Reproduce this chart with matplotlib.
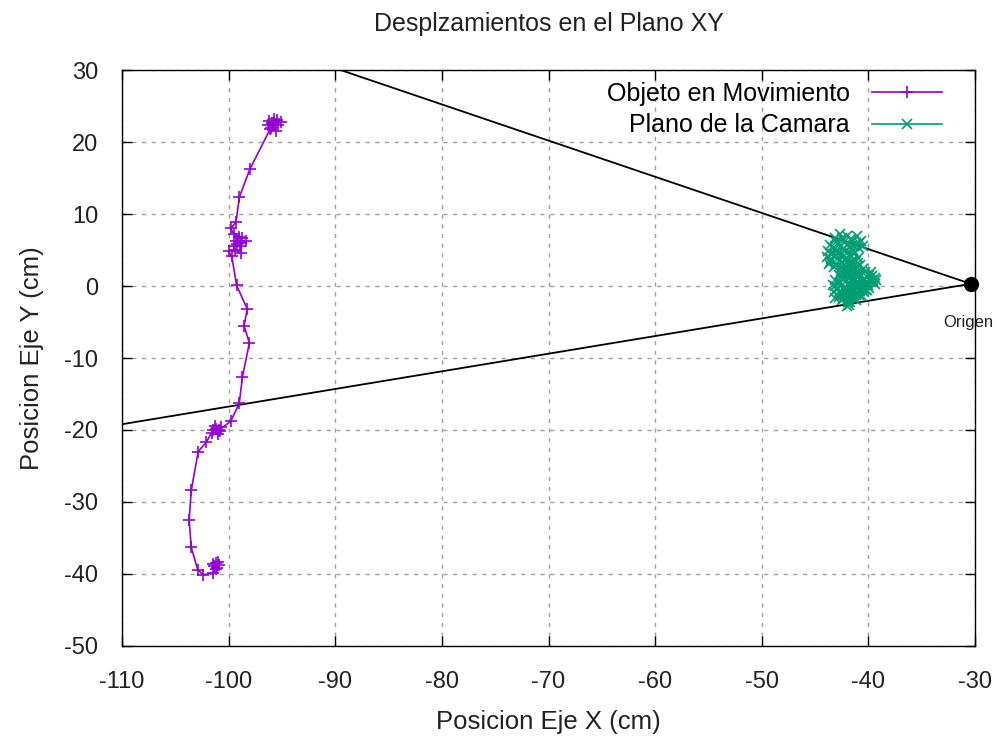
import matplotlib
matplotlib.use("Agg")
import matplotlib.pyplot as plt

plt.rcParams['font.family'] = ['Liberation Sans', 'DejaVu Sans']
plt.rcParams['axes.unicode_minus'] = False

# Trayectoria del objeto (cm)
obj_x = [-101.2, -100.9, -101.4, -101.1, -101.0, -101.5, -101.2,
         -101.5, -102.4, -102.9, -103.5, -103.7, -103.5, -102.85, -102.1,
         -101.6, -101.2, -100.8, -101.5, -101.0, -100.7, -101.3, -100.9,
         -99.8, -99.0, -98.7, -98.05, -98.55, -98.25, -99.25,
         -99.7, -100.0, -99.4, -98.8, -98.9, -99.5, -99.2, -98.8, -98.4,
         -99.3, -99.0, -98.7, -99.5, -99.8, -99.3,
         -99.0, -98.0,
         -96.1, -95.6, -96.0, -95.8, -95.4, -96.3, -95.7, -95.9, -96.2,
         -95.5, -95.1, -95.7]
obj_y = [-38.5, -38.8, -38.9, -39.1, -38.3, -38.6, -39.3,
         -39.9, -40.1, -39.4, -36.3, -32.5, -28.4, -23.0, -21.7,
         -20.4, -19.8, -20.2, -20.0, -20.6, -19.6, -19.4, -20.0,
         -18.8, -16.3, -12.6, -7.9, -5.55, -3.2, 0.1,
         4.1, 4.8, 5.0, 4.6, 5.5, 5.6, 5.9, 6.0, 6.2,
         6.3, 6.8, 6.7, 7.2, 8.0, 8.9,
         12.3, 16.25,
         21.8, 21.6, 22.0, 22.3, 22.4, 22.4, 22.6, 22.7, 22.9,
         23.0, 22.8, 23.2]

# Proyección en el plano de la cámara (cm)
cam_x = [-41.8, -41.9, -42.3, -42.8, -43.2, -42.9, -43.3, -42.7, -42.2, -41.7,
         -41.2, -40.8, -41.3, -40.9, -40.3, -39.8, -39.4, -39.9, -40.4, -40.9,
         -41.4, -41.8, -42.4, -42.0, -41.5, -41.1, -41.6, -42.1,
         -42.5, -43.0, -43.6, -43.9, -43.4, -43.8, -43.3, -42.9, -42.6, -43.0,
         -42.5, -42.0, -41.6, -41.1, -40.7, -41.2, -41.7, -42.2, -41.8, -41.3,
         -41.0, -41.5, -42.0, -42.5, -42.9, -42.3, -41.9, -41.4, -41.0,
         -41.3, -41.0, -40.6, -40.1, -39.6, -40.0, -40.5, -41.0, -41.5, -42.0,
         -42.5, -42.0, -41.6, -41.9, -41.6, -41.3, -40.7, -40.2, -39.5, -39.7,
         -40.3, -40.8, -41.4, -42.6, -43.1, -42.7, -42.3, -41.9, -42.2,
         -42.8, -43.1, -42.5, -42.1, -41.4, -40.9, -40.4, -39.9, -39.4, -39.3,
         -39.8, -40.5, -41.0, -41.6, -42.0, -42.6, -43.2, -43.7, -43.5, -43.0,
         -42.6, -43.1, -43.6, -43.1, -42.7, -42.3, -41.9, -41.4, -40.9, -40.5,
         -40.9, -41.4, -41.9, -42.4, -42.8, -42.2, -41.7, -41.2, -40.8, -41.3,
         -41.8, -42.3, -42.8, -43.1, -42.6, -42.1, -41.5, -41.1, -40.6, -40.1,
         -40.6, -41.2, -41.8, -42.0, -41.7]
cam_y = [-2.6, -1.8, -1.2, -1.5, -0.9, -0.3, 0.2, 0.5, -0.2, -0.8,
         -1.3, -0.7, -0.1, 0.4, 0.1, 0.6, 1.1, 1.5, 1.0, 1.4,
         0.9, 0.3, 0.9, 1.5, 2.0, 2.6, 2.2, 2.0,
         2.6, 3.0, 3.4, 4.0, 4.4, 4.9, 5.3, 4.8, 5.6, 6.1,
         6.6, 7.0, 6.5, 6.9, 6.3, 5.8, 5.4, 4.9, 4.3, 4.6,
         3.9, 3.5, 3.8, 3.3, 3.8, 4.2, 3.0, 2.7, 3.2,
         1.8, 1.2, 0.7, 1.3, 0.8, 0.2, -0.4, -0.2, 0.5, -0.5,
         -1.0, -1.4, -0.4, -2.0, -1.0, 0.3, -0.2, -0.6, 0.4, 1.4,
         2.0, 1.7, 1.0, 1.2, 0.0, -0.8, -1.6, -2.2, -0.6,
         -0.9, -1.7, -2.0, -1.0, -1.7, -1.2, -0.9, -0.3, 0.3, 0.9,
         1.9, 2.3, 1.9, 1.4, 2.4, 2.1, 2.6, 3.0, 3.8, 4.3,
         4.5, 5.1, 5.7, 6.6, 7.2, 6.1, 5.9, 6.2, 6.0, 5.6,
         5.3, 5.0, 4.7, 5.2, 5.9, 3.6, 3.2, 3.5, 2.9, 2.3,
         1.7, 1.2, 1.5, 0.8, 0.0, -0.6, -0.3, 0.6, 0.1, -0.6,
         -1.4, -2.0, -1.4, -2.8, -2.2]

# Campo de visión de la cámara
origen = (-30.4, 0.3)
limite_sup = (-89.5, 30.0)
limite_inf = (-110.0, -19.2)

fig = plt.figure(figsize=(9.98, 7.38), dpi=100)
ax = fig.add_axes([0.1222, 0.1247, 0.8548, 0.7804])

ax.plot([origen[0], limite_sup[0]], [origen[1], limite_sup[1]], color='black', lw=1.3, zorder=3)
ax.plot([origen[0], limite_inf[0]], [origen[1], limite_inf[1]], color='black', lw=1.3, zorder=3)

ax.plot(obj_x, obj_y, color='#9400d3', lw=1.2, marker='+', ms=9, mew=1.2,
        label='Objeto en Movimiento', zorder=4)
ax.plot(cam_x, cam_y, color='#009e73', lw=1.2, marker='x', ms=7, mew=1.2,
        label='Plano de la Camara', zorder=4)

ax.plot([origen[0]], [origen[1]], 'o', color='black', ms=10, zorder=5, clip_on=False)
ax.text(origen[0] - 0.2, origen[1] - 5.3, 'Origen', fontsize=12, color='#202020',
        ha='center', va='center', clip_on=False)

ax.set_xlim(-110, -30)
ax.set_ylim(-50, 30)
ax.set_xticks(range(-110, -29, 10))
ax.set_yticks(range(-50, 31, 10))
ax.grid(True, color='#a0a0a0', linestyle=(0, (3, 4)), linewidth=1)
ax.set_axisbelow(True)
ax.tick_params(direction='in', length=7, width=1, top=True, right=True,
               labelsize=17, colors='black', labelcolor='#222222')
ax.tick_params(axis='x', pad=18)
ax.tick_params(axis='y', pad=17)
for s in ax.spines.values():
    s.set_linewidth(1)

ax.set_title('Desplzamientos en el Plano XY', fontsize=18, pad=28, color='#222222')
ax.set_xlabel('Posicion Eje X (cm)', fontsize=18.5, labelpad=12, color='#222222')
ax.set_ylabel('Posicion Eje Y (cm)', fontsize=18.5, labelpad=15, color='#222222')

ax.legend(loc='upper right', bbox_to_anchor=(0.973, 0.997), borderaxespad=0,
          frameon=False, markerfirst=False, fontsize=18,
          handlelength=2.8, labelspacing=0.3, handletextpad=0.9)

fig.savefig('out.png', dpi=100)
